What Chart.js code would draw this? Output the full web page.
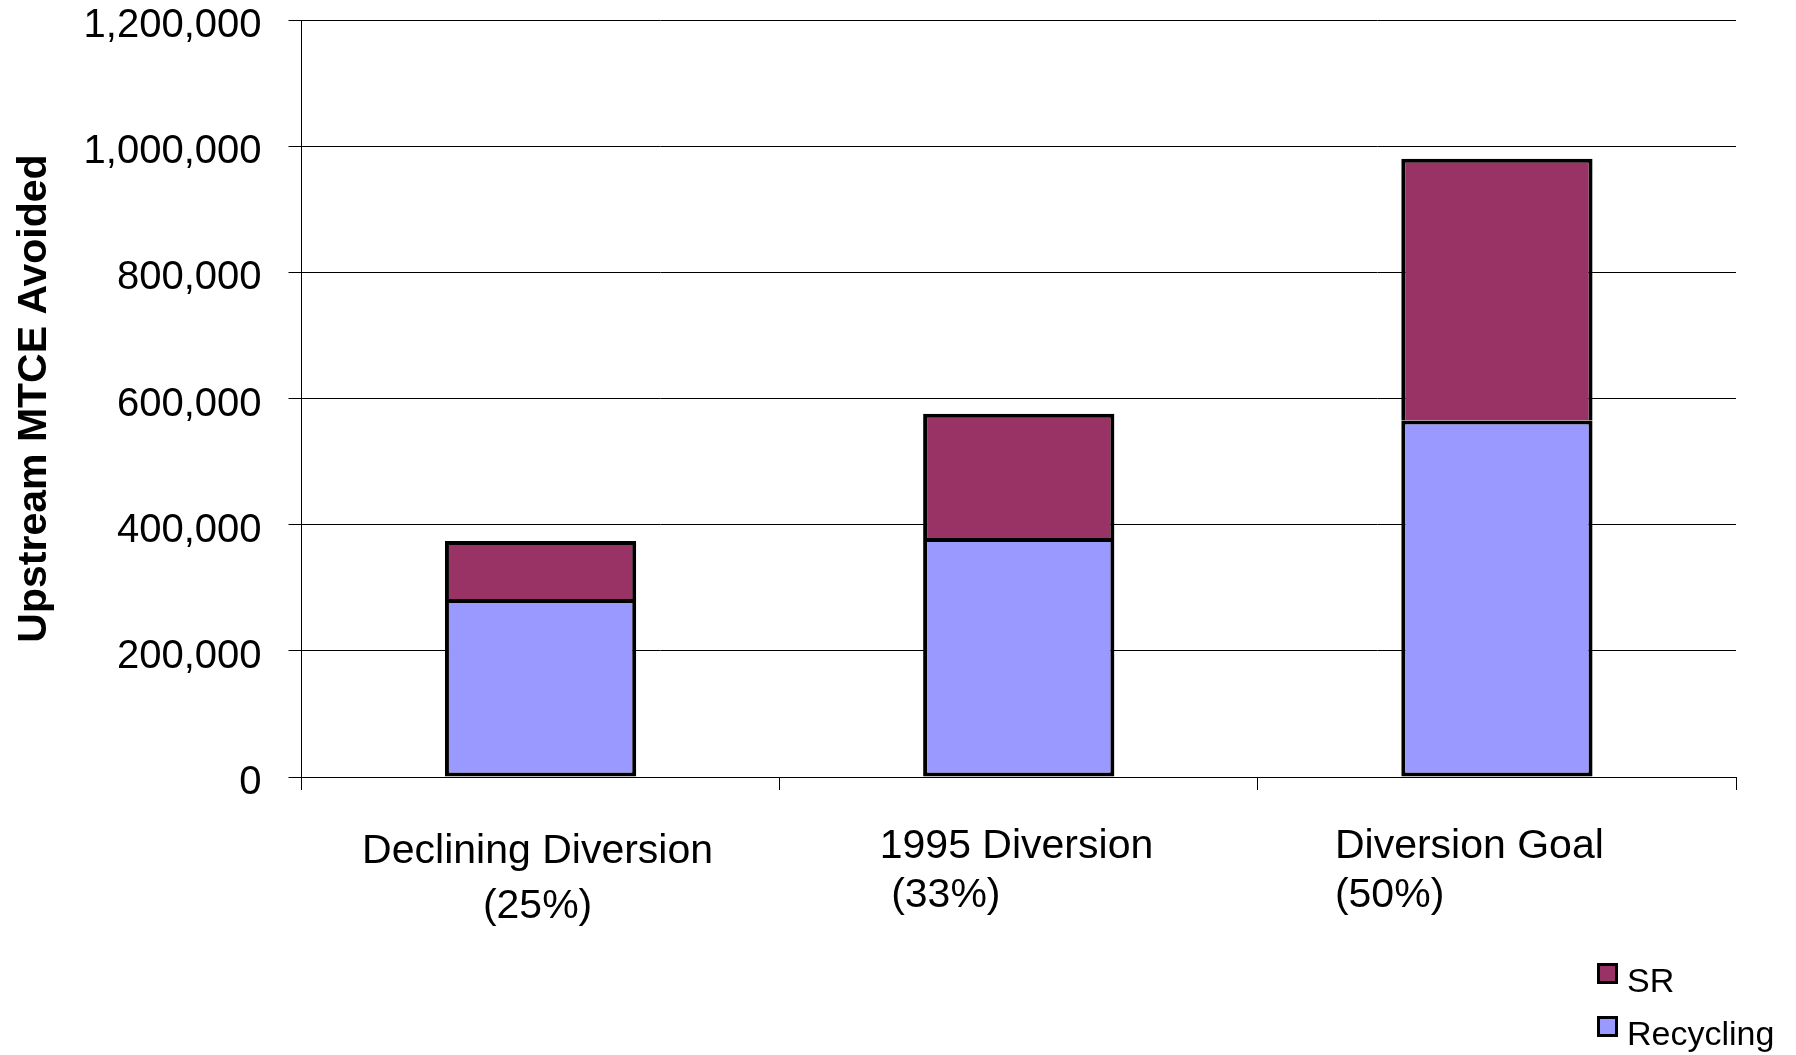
<!DOCTYPE html>
<html>
<head>
<meta charset="utf-8">
<script src="https://cdn.jsdelivr.net/npm/chart.js@4/dist/chart.umd.min.js"></script>
<style>
  html, body { margin: 0; padding: 0; background: #ffffff; }
  #wrap { width: 1796px; height: 1055px; position: relative; }
</style>
</head>
<body>
<div id="wrap"><canvas id="chart"></canvas></div>
<script>
// Scenario categories (each label is drawn on two lines)
const categories = [
  ['Declining Diversion', '(25%)'],
  ['1995 Diversion', ' (33%)'],
  ['Diversion Goal', '(50%)']
];

// Upstream MTCE avoided, stacked: recycling at the bottom, source reduction (SR) on top
const recycling = [282000, 379000, 565000];
const sourceReduction = [92000, 197000, 415000];

// Value axis
const yMin = 0;
const yMax = 1200000;
const yStep = 200000;

const axisTitle = 'Upstream MTCE Avoided';
const FONT = "'Liberation Sans', Arial, sans-serif";

// How each category's two-line label sits under its slot
const labelLayout = [
  { align: 'center', dx: -3,   dy: [75, 130] },
  { align: 'left',   dx: -139, dy: [70, 119] },
  { align: 'left',   dx: -162, dy: [70, 119] }
];

const categoryLabels = {
  id: 'categoryLabels',
  afterDraw(chart) {
    const x = chart.scales.x;
    const ctx = chart.ctx;
    ctx.save();
    ctx.font = '41px ' + FONT;
    ctx.fillStyle = '#000';
    ctx.textBaseline = 'middle';
    categories.forEach((lines, i) => {
      const lay = labelLayout[i];
      const cx = x.getPixelForValue(i) + lay.dx;
      ctx.textAlign = lay.align;
      lines.forEach((t, j) => ctx.fillText(t, cx, x.top + lay.dy[j]));
    });
    ctx.restore();
  }
};

// Small stacked legend in the lower right corner, top entry = top of the stack
const cornerLegend = {
  id: 'cornerLegend',
  afterDraw(chart) {
    const ctx = chart.ctx;
    const sets = chart.data.datasets.slice().reverse();
    const boxX = 1597, box = 21, firstTop = 963, rowGap = 53;
    ctx.save();
    ctx.font = '34px ' + FONT;
    ctx.textBaseline = 'middle';
    ctx.textAlign = 'left';
    sets.forEach((ds, i) => {
      const top = firstTop + i * rowGap;
      ctx.fillStyle = ds.backgroundColor;
      ctx.fillRect(boxX, top, box, box);
      ctx.lineWidth = 3;
      ctx.strokeStyle = '#000';
      ctx.strokeRect(boxX + 1.5, top + 1.5, box - 3, box - 3);
      ctx.fillStyle = '#000';
      ctx.fillText(ds.label, boxX + 30, top + box / 2 + 9);
    });
    ctx.restore();
  }
};

new Chart(document.getElementById('chart'), {
  type: 'bar',
  data: {
    labels: categories.map(l => l.join(' ')),
    datasets: [
      {
        label: 'Recycling',
        data: recycling,
        backgroundColor: '#9999FF',
        borderColor: '#000000',
        borderWidth: 4,
        borderSkipped: false
      },
      {
        label: 'SR',
        data: sourceReduction,
        backgroundColor: '#993366',
        borderColor: '#000000',
        borderWidth: 4,
        borderSkipped: 'start'
      }
    ]
  },
  options: {
    responsive: true,
    maintainAspectRatio: false,
    animation: false,
    devicePixelRatio: 1,
    layout: { padding: { top: 20, right: 60, left: 0, bottom: 0 } },
    datasets: { bar: { barPercentage: 0.4, categoryPercentage: 1.0 } },
    plugins: {
      legend: { display: false },
      tooltip: { enabled: false }
    },
    scales: {
      x: {
        stacked: true,
        ticks: { display: false },
        grid: {
          offset: true,
          drawOnChartArea: false,
          drawTicks: true,
          tickLength: 13,
          color: '#000000',
          lineWidth: 1
        },
        border: { display: true, color: '#000000', width: 1 },
        afterFit(s) { s.height = 278; s.paddingLeft = 0; s.paddingRight = 0; }
      },
      y: {
        stacked: true,
        min: yMin,
        max: yMax,
        ticks: {
          stepSize: yStep,
          color: '#000000',
          font: { family: FONT, size: 40 },
          padding: 27,
          labelOffset: 6,
          callback: v => Number(v).toLocaleString('en-US')
        },
        grid: {
          color: '#000000',
          lineWidth: 1,
          drawTicks: true,
          tickLength: 13
        },
        border: { display: true, color: '#000000', width: 1 },
        title: {
          display: true,
          text: axisTitle,
          color: '#000000',
          font: { family: FONT, size: 41, weight: 'bold' },
          padding: { top: 10, bottom: 0 }
        },
        afterFit(s) { s.width = 301.5; s.paddingTop = 0; s.paddingBottom = 0; }
      }
    }
  },
  plugins: [categoryLabels, cornerLegend]
});
</script>
</body>
</html>
